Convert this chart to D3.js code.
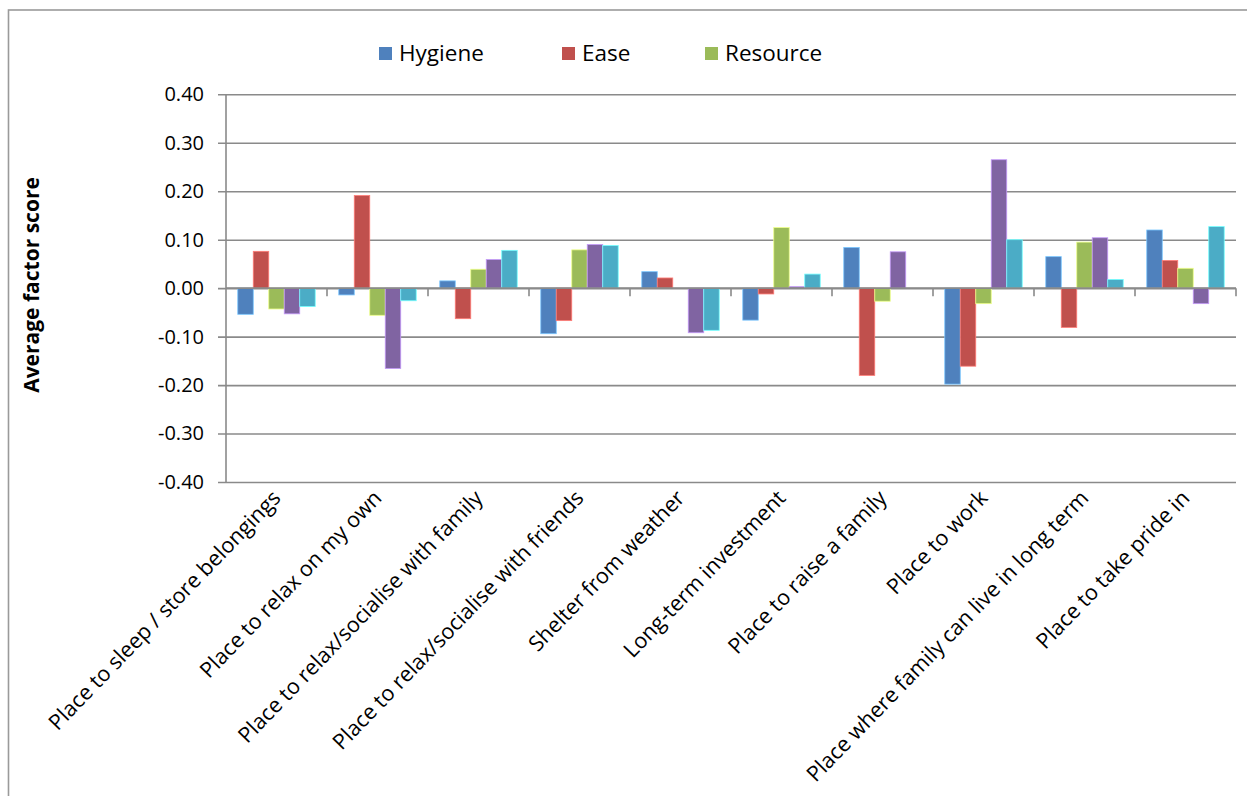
<!DOCTYPE html>
<html>
<head>
<meta charset="utf-8">
<script src="https://cdn.jsdelivr.net/npm/d3@7"></script>
<style>
  html, body { margin: 0; padding: 0; background: #fff; }
  svg { display: block; }
  text { font-family: "Open Sans", "DejaVu Sans", sans-serif; fill: #000; }
</style>
</head>
<body>
<svg id="chart" width="1247" height="796"></svg>
<script>
// Categories along the x axis
const categories = [
  "Place to sleep / store belongings",
  "Place to relax on my own",
  "Place to relax/socialise with family",
  "Place to relax/socialise with friends",
  "Shelter from weather",
  "Long-term investment",
  "Place to raise a family",
  "Place to work",
  "Place where family can live in long term",
  "Place to take pride in"
];

// Average factor scores per series
const hygiene  = [-0.054, -0.014, 0.015, -0.094, 0.034, -0.066, 0.084, -0.198, 0.065, 0.120];
const ease     = [0.076, 0.191, -0.063, -0.067, 0.021, -0.012, -0.180, -0.161, -0.081, 0.057];
const resource = [-0.043, -0.056, 0.039, 0.079, 0.000, 0.125, -0.027, -0.032, 0.095, 0.041];
const factor4  = [-0.053, -0.166, 0.059, 0.090, -0.092, 0.003, 0.075, 0.265, 0.104, -0.032];
const factor5  = [-0.038, -0.026, 0.078, 0.088, -0.087, 0.029, 0.000, 0.100, 0.018, 0.127];

const legendNames = ["Hygiene", "Ease", "Resource"];
const yTicks = [-0.4, -0.3, -0.2, -0.1, 0, 0.1, 0.2, 0.3, 0.4];

const seriesValues = [hygiene, ease, resource, factor4, factor5];
const colors = ["#4F81BD", "#C0504D", "#9BBB59", "#8064A2", "#4BACC6"];

const svg = d3.select("#chart");
const plotLeft = 226, plotRight = 1236, plotTop = 94.3, plotBottom = 482;
const gridColor = "#8a8a8a";

// outer chart frame
svg.append("rect")
  .attr("x", 8.5).attr("y", 10)
  .attr("width", 1300).attr("height", 900)
  .attr("fill", "none").attr("stroke", "#9a9a9a").attr("stroke-width", 1.6);

const y = d3.scaleLinear().domain([-0.4, 0.4]).range([plotBottom, plotTop]);
const x0 = d3.scaleBand().domain(d3.range(categories.length)).range([plotLeft, plotRight]).padding(0);
const x1 = d3.scaleBand().domain(d3.range(seriesValues.length)).range([0, x0.bandwidth()])
  .paddingInner(0).paddingOuter(0.76);

// tick labels with a plain hyphen for negatives
const fmt = d3.format(".2f");
const tickFormat = v => fmt(v).replace("\u2212", "-");

// horizontal gridlines with y axis ticks/labels
const yAxis = d3.axisLeft(y).tickValues(yTicks).tickFormat(tickFormat)
  .tickSize(-(plotRight - plotLeft)).tickPadding(14);
const gy = svg.append("g").attr("transform", `translate(${plotLeft},0)`).call(yAxis);
gy.select(".domain").remove();
gy.selectAll(".tick line")
  .attr("x1", -8)
  .attr("stroke", gridColor).attr("stroke-width", 1.6);
gy.selectAll(".tick text")
  .attr("x", -22)
  .style("font-size", "20px")
  .style("font-family", '"Open Sans", sans-serif')
  .attr("fill", "#000");

// vertical axis line
svg.append("line")
  .attr("x1", plotLeft).attr("x2", plotLeft).attr("y1", plotTop).attr("y2", plotBottom)
  .attr("stroke", gridColor).attr("stroke-width", 1.6);

// bars
const groups = svg.append("g").selectAll("g")
  .data(categories.map((c, i) => i))
  .join("g")
  .attr("transform", i => `translate(${x0(i)},0)`);

groups.selectAll("rect")
  .data(i => seriesValues.map((vals, s) => ({ s, v: vals[i] })))
  .join("rect")
  .attr("x", d => x1(d.s))
  .attr("width", x1.bandwidth())
  .attr("y", d => y(Math.max(0, d.v)))
  .attr("height", d => Math.abs(y(d.v) - y(0)))
  .attr("fill", d => colors[d.s])
  .attr("stroke", d => d3.color(colors[d.s]).brighter(1.2).formatHex())
  .attr("stroke-width", 0.8);

// category axis at zero
const xAxisG = svg.append("g");
xAxisG.append("line")
  .attr("x1", plotLeft).attr("x2", plotRight).attr("y1", y(0)).attr("y2", y(0))
  .attr("stroke", gridColor).attr("stroke-width", 1.6);
xAxisG.selectAll("line.tick")
  .data(d3.range(1, categories.length + 1))
  .join("line")
  .attr("class", "tick")
  .attr("x1", i => x0.step() * i + plotLeft).attr("x2", i => x0.step() * i + plotLeft)
  .attr("y1", y(0)).attr("y2", y(0) + 8)
  .attr("stroke", gridColor).attr("stroke-width", 1.6);

// rotated category labels under the plot
svg.append("g").selectAll("text")
  .data(categories)
  .join("text")
  .attr("transform", (d, i) => `translate(${x0(i) + x0.bandwidth() / 2},${plotBottom + 12}) rotate(-46)`)
  .attr("text-anchor", "end")
  .attr("dy", "0.35em")
  .style("font-size", "21.5px")
  .text(d => d);

// y axis title
svg.append("text")
  .attr("transform", "translate(39,285) rotate(-90)")
  .attr("text-anchor", "middle")
  .style("font-size", "21px")
  .style("font-weight", "bold")
  .text("Average factor score");

// legend
const legendX = [379, 562, 705];
const legend = svg.append("g").selectAll("g")
  .data(legendNames)
  .join("g")
  .attr("transform", (d, i) => `translate(${legendX[i]},47)`);
legend.append("rect")
  .attr("width", 13).attr("height", 13)
  .attr("fill", (d, i) => colors[i]);
legend.append("text")
  .attr("x", 20).attr("y", 13.5)
  .style("font-size", "22.5px")
  .text(d => d);
</script>
</body>
</html>
